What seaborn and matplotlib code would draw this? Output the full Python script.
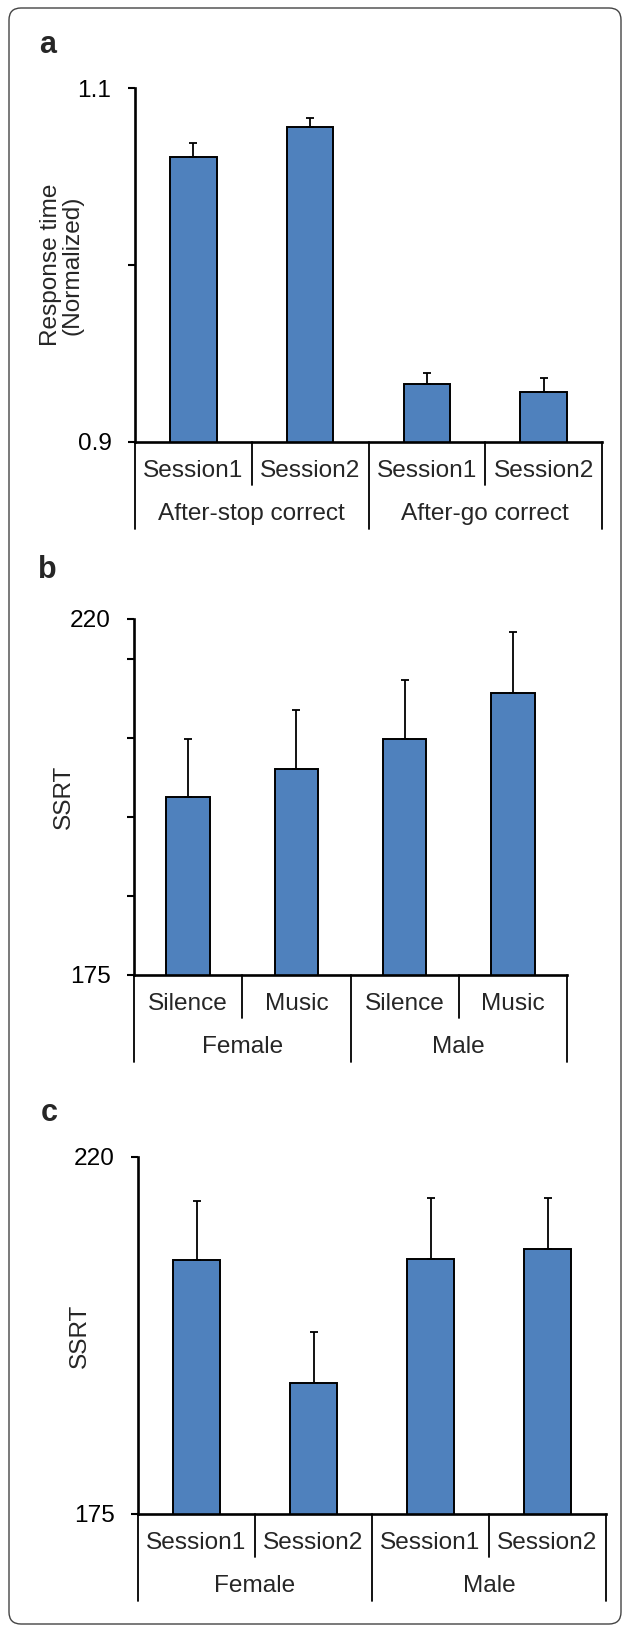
import numpy as np
import pandas as pd
import matplotlib
matplotlib.use("Agg")
import matplotlib.pyplot as plt
from matplotlib.patches import FancyBboxPatch
from matplotlib.lines import Line2D
import seaborn as sns

# panel a: response time after stop / go trials
a_conds = ["Session1", "Session2", "Session1", "Session2"]
a_groups = ["After-stop correct", "After-go correct"]
a_values = [1.061, 1.078, 0.933, 0.928]
a_err = [0.008, 0.005, 0.006, 0.008]

# panel b: SSRT by sex and condition
b_conds = ["Silence", "Music", "Silence", "Music"]
b_groups = ["Female", "Male"]
b_values = [197.5, 201.0, 204.8, 210.7]
b_err = [7.3, 7.5, 7.5, 7.7]

# panel c: SSRT by sex and session
c_conds = ["Session1", "Session2", "Session1", "Session2"]
c_groups = ["Female", "Male"]
c_values = [207.0, 191.5, 207.1, 208.4]
c_err = [7.5, 6.4, 7.7, 6.4]

BAR_COLOR = "#4F81BD"
FS = 17.6

sns.set_style("white")
plt.rcParams["font.family"] = ["Liberation Sans", "DejaVu Sans"]

W, H = 627, 1628
fig = plt.figure(figsize=(W / 100, H / 100), dpi=100)


def add_axes_px(left, right, top, bottom):
    return fig.add_axes([left / W, 1 - bottom / H, (right - left) / W, (bottom - top) / H])


def draw_panel(ax, conds, groups, values, err, ylim, yticks, ylabels, ylabel, label_x):
    df = pd.DataFrame({"pos": range(len(values)), "value": values})
    sns.barplot(data=df, x="pos", y="value", ax=ax, color=BAR_COLOR,
                edgecolor="black", linewidth=1.4, width=0.4, errorbar=None,
                saturation=1)
    ax.errorbar(df["pos"], df["value"], yerr=[np.zeros(len(err)), err],
                fmt="none", ecolor="black", elinewidth=1.3, capsize=2.6,
                capthick=1.3, zorder=1)
    ax.set_xlim(-0.5, len(values) - 0.5)
    ax.set_ylim(*ylim)
    ax.set_yticks(yticks)
    ax.set_yticklabels(ylabels, fontsize=FS)
    ax.set_xticks([])
    ax.set_xlabel("")
    ax.set_ylabel(ylabel, fontsize=FS, va="center", linespacing=1.0)
    ax.yaxis.set_label_coords(label_x, 0.5)
    ax.tick_params(axis="y", direction="out", length=5, width=1.5, pad=12,
                   left=True, colors="black")
    for s in ["top", "right"]:
        ax.spines[s].set_visible(False)
    for s in ["left", "bottom"]:
        ax.spines[s].set_linewidth(1.9)
        ax.spines[s].set_color("black")

    # two-level category axis below the bars
    axh = ax.bbox.height
    tr = ax.get_xaxis_transform()
    for x in [0.5, 2.5]:
        ax.add_line(Line2D([x, x], [0, -43 / axh], transform=tr, color="black",
                           lw=1.3, clip_on=False))
    for x in [-0.5, 1.5, 3.5]:
        ax.add_line(Line2D([x, x], [0, -87 / axh], transform=tr, color="black",
                           lw=1.3, clip_on=False))
    for i, c in enumerate(conds):
        ax.text(i, -29 / axh, c, transform=tr, ha="center", va="center", fontsize=FS)
    for j, g in enumerate(groups):
        ax.text(2 * j + 0.5, -72 / axh, g, transform=tr, ha="center", va="center",
                fontsize=FS)


ax_a = add_axes_px(135, 602, 88, 442)
draw_panel(ax_a, a_conds, a_groups, a_values, a_err, (0.9, 1.1),
           [0.9, 1.0, 1.1], ["0.9", "", "1.1"],
           "Response time\n(Normalized)", -0.157)

ax_b = add_axes_px(134, 567, 619, 975)
draw_panel(ax_b, b_conds, b_groups, b_values, b_err, (175, 220),
           [175, 185, 195, 205, 215, 220], ["175", "", "", "", "", "220"],
           "SSRT", -0.162)

ax_c = add_axes_px(138, 606, 1157, 1514)
draw_panel(ax_c, c_conds, c_groups, c_values, c_err, (175, 220),
           [175, 220], ["175", "220"], "SSRT", -0.124)

# panel letters
for letter, (x, y) in zip(["a", "b", "c"], [(48, 45), (47, 570), (49, 1113)]):
    fig.text(x / W, 1 - y / H, letter, ha="center", va="center",
             fontsize=22, fontweight="bold")

# rounded frame round the whole figure
frame = FancyBboxPatch((0.09, 0.04), 6.12, 16.16,
                       boxstyle="round,pad=0,rounding_size=0.12",
                       transform=fig.dpi_scale_trans, fill=False,
                       edgecolor="#444444", linewidth=1.0)
fig.patches.append(frame)

fig.savefig("out.png", dpi=100)
